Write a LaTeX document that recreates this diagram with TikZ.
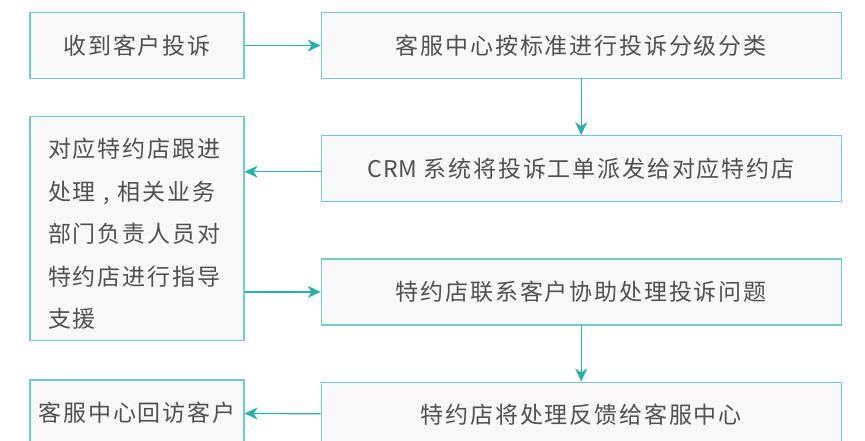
\documentclass[tikz,border=0pt]{standalone}
\usepackage{fontspec}
\setmainfont{Noto Sans CJK SC}[LetterSpace=8]
\usetikzlibrary{positioning,arrows.meta}
\definecolor{boxline}{HTML}{6CCDCD}
\definecolor{flowline}{HTML}{25B1AC}
\definecolor{boxfill}{HTML}{F8F8F8}
\definecolor{textgray}{HTML}{505050}
\newcommand{\tightlatin}[1]{{\addfontfeature{LetterSpace=2}#1}}

\begin{document}
\begin{tikzpicture}[x=1pt,y=-1pt,
  box/.style={draw=boxline, fill=boxfill, line width=1.2pt, text=textgray,
    inner sep=0pt, minimum height=66pt, font=\fontsize{23pt}{42.5pt}\selectfont},
  small/.style={box, minimum width=214pt},
  wide/.style={box, minimum width=520pt},
  flow/.style={draw=flowline, line width=1.2pt,
    -{Stealth[length=13pt,width=12pt,inset=4pt]}},
  node distance=56pt and 76pt]
\useasboundingbox (0,0) rectangle (865,441);

\node[small] (recv) at (137,45.5) {收到客户投诉};
\node[wide, right=of recv] (grade) {客服中心按标准进行投诉分级分类};
\node[wide, below=of grade] (dispatch) {\tightlatin{CRM} 系统将投诉工单派发给对应特约店};
\node[wide, below=of dispatch] (contact) {特约店联系客户协助处理投诉问题};
\node[wide, below=of contact] (feedback) {特约店将处理反馈给客服中心};
\node[small, minimum height=224pt, text width=178pt, align=left,
  below=37pt of recv] (guide) {\rule{0pt}{30pt}对应特约店跟进\\处理 , 相关业务\\部门负责人员对\\特约店进行指导\\支援};
\node[small, below=38pt of guide] (revisit) {客服中心回访客户};

\coordinate (dout) at ([yshift=-3pt]dispatch.west);
\draw[flow] (recv) -- (grade);
\draw[flow] (grade) -- (dispatch);
\draw[flow] (dout) -- (guide.east |- dout);
\draw[flow] (guide.east |- contact.west) -- (contact.west);
\draw[flow] (contact) -- (feedback);
\draw[flow] (feedback) -- (revisit);
\end{tikzpicture}
\end{document}
